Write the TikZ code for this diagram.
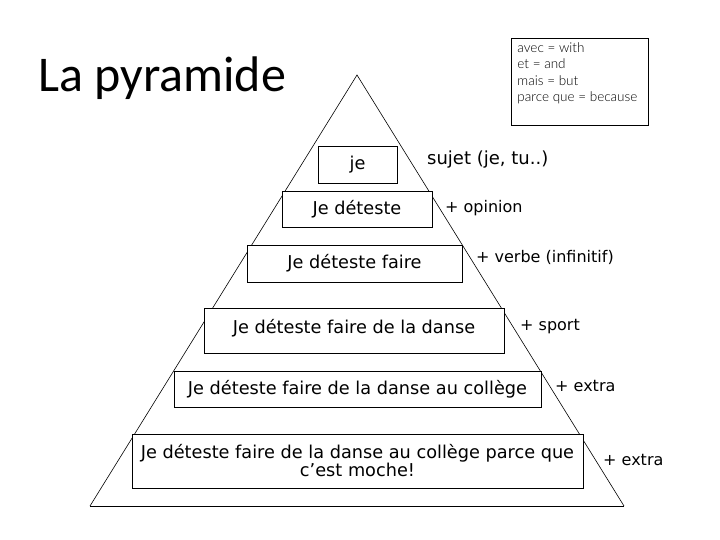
\documentclass[tikz,border=0pt]{standalone}
\usepackage{fontspec}
\setmainfont{DejaVu Sans}
\newfontfamily\titlefont{Carlito}
\newfontfamily\notefont{Lato Light}
\usetikzlibrary{calc}

\begin{document}
\begin{tikzpicture}[
		x=1pt, y=-1pt,
		box/.style={draw=black, fill=white, line width=0.9pt, inner sep=0pt,
			font=\fontsize{17.7}{20}\selectfont, align=center},
		step label/.style={anchor=west, inner sep=0pt, font=\fontsize{16}{19}\selectfont},
		side/.style={line width=0.6pt},
	]
	\useasboundingbox (0,0) rectangle (720,540);
	% the pyramid
	\coordinate (top) at (357,75);
	\coordinate (left) at (90,506);
	\coordinate (right) at (624,506);
	\draw[side] (left) -- (top) -- (right);
	\draw[line width=0.9pt] (left) -- (right);
	% the layers
	\node[box, minimum width=79, minimum height=37] (je) at (357.5,164.5) {je};
	\node[box, minimum width=150, minimum height=36] (deteste) at (357,209) {Je déteste};
	\node[box, minimum width=215, minimum height=37] (faire) at (354.5,263.5) {Je déteste faire};
	\node[box, minimum width=300, minimum height=45] (danse) at (354,330.5) {\raisebox{9pt}{Je déteste faire de la danse}};
	\node[box, minimum width=367, minimum height=36] (college) at (357.5,389) {Je déteste faire de la danse au collège};
	\node[box, minimum width=451, minimum height=54] (moche) at (357.5,461)
		{Je déteste faire de la danse au collège parce que\\[-2pt] c’est moche!};
	% what each layer adds
	\node[step label, font=\fontsize{18}{20}\selectfont] (sujet) at (427,160) {sujet (je, tu..)};
	\node[step label] (opinion) at (445,208) {+ opinion};
	\node[step label] (verbe) at (476,257) {+ verbe (infinitif)};
	\node[step label] (sport) at (520,327) {+ sport};
	\node[step label] (extraA) at (555,386) {+ extra};
	\node[step label] (extraB) at (603,460) {+ extra};
	% title and vocabulary
	\node[anchor=base west, inner sep=0pt, font=\titlefont\fontsize{50}{54}\selectfont] (title) at (38,92) {La pyramide};
	\node[draw, line width=0.9pt, anchor=north west, inner sep=0pt, font=\notefont\fontsize{13.5}{16.5}\selectfont] (vocab) at (511,38)
		{\parbox[t][87pt][t]{137pt}{\vspace{4pt}\hspace*{6pt}avec = with\\ \hspace*{6pt}et = and\\ \hspace*{6pt}mais = but\\ \hspace*{6pt}parce que = because}};
\end{tikzpicture}
\end{document}
